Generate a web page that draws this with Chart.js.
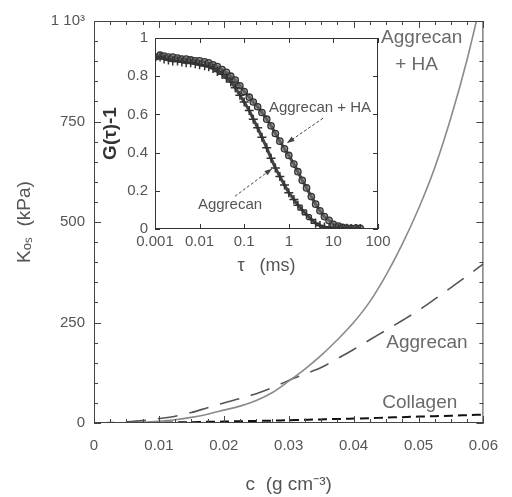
<!DOCTYPE html>
<html>
<head>
<meta charset="utf-8">
<script src="https://cdn.jsdelivr.net/npm/chart.js@4.4.1/dist/chart.umd.min.js"></script>
<style>
  body { margin: 0; background: #fff; }
  #wrap { position: relative; width: 512px; height: 497px; }
  #mainChart { position: absolute; left: 0; top: 0; }
  #insetChart { position: absolute; left: 95px; top: 22px; }
</style>
</head>
<body>
<div id="wrap">
  <canvas id="mainChart" width="512" height="497"></canvas>
  <canvas id="insetChart" width="300" height="262"></canvas>
</div>
<script>
  // Pressão osmótica vs concentração (gráfico principal)
  const concentration = [0, 0.0025, 0.005, 0.0075, 0.01, 0.0125, 0.015, 0.0175, 0.02, 0.0225, 0.025, 0.0275,
    0.03, 0.0325, 0.035, 0.0375, 0.04, 0.0425, 0.045, 0.0475, 0.05, 0.0525, 0.055, 0.0575, 0.06];
  const aggrecanHA = [0, 0, 0.5, 1.5, 4, 8, 14, 22, 32, 42, 56, 76,
    104, 134, 168, 207, 250, 302, 368, 445, 533, 635, 760, 905, 1075];
  const aggrecan = [0, 1, 3, 6, 11, 17, 26, 38, 50, 61, 73, 88,
    106, 122, 138, 160, 183, 207, 231, 255, 280, 308, 337, 366, 396];
  const collagen = [0, 0, 0, 0.5, 1, 1.5, 2, 3, 3.5, 4.5, 5, 6,
    7, 8, 9, 10, 11, 12, 13.5, 14.5, 16, 17, 18, 19.5, 21];

  const cTicks = [0, 0.01, 0.02, 0.03, 0.04, 0.05, 0.06];
  const cTickLabels = ['0', '0.01', '0.02', '0.03', '0.04', '0.05', '0.06'];
  const kTicks = [0, 250, 500, 750, 1000];
  const kTickLabels = ['0', '250', '500', '750', '1 10³'];

  // Função de correlação (inset)
  const tau = [0.001, 0.0013, 0.0016, 0.002, 0.0025, 0.0032, 0.004, 0.005, 0.0063, 0.008,
    0.01, 0.013, 0.016, 0.02, 0.025, 0.032, 0.04, 0.05, 0.063, 0.08,
    0.1, 0.13, 0.16, 0.2, 0.25, 0.32, 0.4, 0.5, 0.63, 0.8,
    1, 1.3, 1.6, 2, 2.5, 3.2, 4, 5, 6.3, 8,
    10, 13, 16, 20, 25, 32, 40];
  const gAggrecanHA = [0.90, 0.91, 0.905, 0.90, 0.90, 0.895, 0.89, 0.89, 0.885, 0.88,
    0.88, 0.875, 0.87, 0.86, 0.85, 0.835, 0.82, 0.80, 0.78, 0.75,
    0.72, 0.69, 0.665, 0.64, 0.61, 0.575, 0.54, 0.50, 0.46, 0.42,
    0.385, 0.34, 0.30, 0.255, 0.215, 0.17, 0.13, 0.095, 0.065, 0.045,
    0.025, 0.015, 0.008, 0.005, 0.004, 0.005, 0.003];
  const gAggrecan = [0.89, 0.90, 0.89, 0.885, 0.88, 0.88, 0.875, 0.87, 0.87, 0.865,
    0.86, 0.855, 0.85, 0.84, 0.825, 0.81, 0.79, 0.77, 0.74, 0.70,
    0.665, 0.62, 0.575, 0.53, 0.48, 0.425, 0.37, 0.32, 0.275, 0.23,
    0.19, 0.155, 0.125, 0.10, 0.075, 0.05, 0.03, 0.018, 0.01, 0.006,
    0.004, 0.005, 0.002, 0.004, 0.003, 0.002, 0.003];

  const tauTicks = [0.001, 0.01, 0.1, 1, 10, 100];
  const tauTickLabels = ['0.001', '0.01', '0.1', '1', '10', '100'];
  const gTicks = [0, 0.2, 0.4, 0.6, 0.8, 1];
  const gTickLabels = ['0', '0.2', '0.4', '0.6', '0.8', '1'];

  Chart.defaults.font.family = "'Liberation Sans', Arial, sans-serif";
  Chart.defaults.color = '#555';
  Chart.defaults.animation = false;

  const toPoints = (xs, ys) => xs.map((v, i) => ({ x: v, y: ys[i] }));

  // Moldura com marcas para dentro nos quatro lados
  const frameTicks = {
    id: 'frameTicks',
    afterDatasetsDraw(chart, args, opts) {
      const { ctx, chartArea: a, scales: { x, y } } = chart;
      ctx.save();
      ctx.strokeStyle = opts.color;
      ctx.lineWidth = 1;
      ctx.strokeRect(a.left + 0.5, a.top + 0.5, a.right - a.left - 1, a.bottom - a.top - 1);
      ctx.beginPath();
      const xMark = (v, len) => {
        const p = Math.round(x.getPixelForValue(v)) + 0.5;
        ctx.moveTo(p, a.bottom); ctx.lineTo(p, a.bottom - len);
        ctx.moveTo(p, a.top); ctx.lineTo(p, a.top + len);
      };
      const yMark = (v, len) => {
        const p = Math.round(y.getPixelForValue(v)) + 0.5;
        ctx.moveTo(a.left, p); ctx.lineTo(a.left + len, p);
        ctx.moveTo(a.right, p); ctx.lineTo(a.right - len, p);
      };
      x.ticks.forEach(t => xMark(t.value, opts.major));
      y.ticks.forEach(t => yMark(t.value, opts.major));
      if (opts.xMinor) {
        for (let v = x.min; v < x.max; v += opts.xMinor) xMark(v, opts.minor);
      }
      if (opts.yMinor) {
        for (let v = y.min; v < y.max; v += opts.yMinor) yMark(v, opts.minor);
      }
      ctx.stroke();
      ctx.restore();
    }
  };

  // Rótulos e setas, posicionados em coordenadas de dados
  const notes = {
    id: 'notes',
    afterDatasetsDraw(chart, args, opts) {
      const { ctx, scales: { x, y } } = chart;
      ctx.save();
      (opts.arrows || []).forEach(ar => {
        const x0 = x.getPixelForValue(ar.from[0]), y0 = y.getPixelForValue(ar.from[1]);
        const x1 = x.getPixelForValue(ar.to[0]), y1 = y.getPixelForValue(ar.to[1]);
        ctx.strokeStyle = opts.arrowColor;
        ctx.fillStyle = opts.arrowColor;
        ctx.lineWidth = 1;
        ctx.setLineDash([3, 2]);
        ctx.beginPath();
        ctx.moveTo(x0, y0);
        ctx.lineTo(x1, y1);
        ctx.stroke();
        ctx.setLineDash([]);
        const ang = Math.atan2(y1 - y0, x1 - x0);
        ctx.beginPath();
        ctx.moveTo(x1, y1);
        ctx.lineTo(x1 - 8 * Math.cos(ang - 0.35), y1 - 8 * Math.sin(ang - 0.35));
        ctx.lineTo(x1 - 8 * Math.cos(ang + 0.35), y1 - 8 * Math.sin(ang + 0.35));
        ctx.closePath();
        ctx.fill();
      });
      (opts.labels || []).forEach(l => {
        ctx.font = opts.font;
        ctx.fillStyle = opts.color;
        ctx.textAlign = 'center';
        ctx.textBaseline = 'middle';
        ctx.fillText(l.text, x.getPixelForValue(l.x), y.getPixelForValue(l.y));
      });
      ctx.restore();
    }
  };

  new Chart(document.getElementById('mainChart'), {
    type: 'line',
    data: {
      datasets: [{
        label: 'Aggrecan + HA',
        data: toPoints(concentration, aggrecanHA),
        borderColor: '#8a8a8a',
        borderWidth: 1.6,
        pointRadius: 0,
        cubicInterpolationMode: 'monotone'
      }, {
        label: 'Aggrecan',
        data: toPoints(concentration, aggrecan),
        borderColor: '#555',
        borderWidth: 1.6,
        borderDash: [20, 12],
        pointRadius: 0,
        cubicInterpolationMode: 'monotone'
      }, {
        label: 'Collagen',
        data: toPoints(concentration, collagen),
        borderColor: '#111',
        borderWidth: 2,
        borderDash: [9, 5],
        pointRadius: 0,
        cubicInterpolationMode: 'monotone'
      }]
    },
    options: {
      responsive: false,
      layout: { padding: { top: 21, right: 15, bottom: 0, left: 0 } },
      scales: {
        x: {
          type: 'linear',
          min: 0,
          max: 0.06,
          afterBuildTicks: s => { s.ticks = cTicks.map(v => ({ value: v })); },
          afterFit: s => { s.height = 74; },
          ticks: { callback: (v, i) => cTickLabels[i], font: { size: 15 }, padding: 14, maxRotation: 0 },
          grid: { display: false, drawTicks: false },
          border: { display: false },
          title: { display: true, text: 'c  (g cm⁻³)', font: { size: 19 }, padding: { top: 0, bottom: 1 } }
        },
        y: {
          min: 0,
          max: 1000,
          afterBuildTicks: s => { s.ticks = kTicks.map(v => ({ value: v })); },
          afterFit: s => { s.width = 94; },
          ticks: { callback: (v, i) => kTickLabels[i], font: { size: 15 }, padding: 9 },
          grid: { display: false, drawTicks: false },
          border: { display: false },
          title: { display: true, text: 'Kₒₛ  (kPa)', font: { size: 19 }, padding: { top: 13, bottom: 0 } }
        }
      },
      plugins: {
        legend: { display: false },
        tooltip: { enabled: false },
        frameTicks: { color: '#444', major: 7, minor: 4, xMinor: 0.0025, yMinor: 50 },
        notes: {
          font: "19px 'Liberation Sans', Arial, sans-serif",
          color: '#6a6a6a',
          labels: [
            { text: 'Aggrecan', x: 0.0505, y: 958 },
            { text: '+ HA', x: 0.0497, y: 890 },
            { text: 'Aggrecan', x: 0.0513, y: 199 },
            { text: 'Collagen', x: 0.0502, y: 50 }
          ]
        }
      }
    },
    plugins: [frameTicks, notes]
  });

  new Chart(document.getElementById('insetChart'), {
    type: 'scatter',
    data: {
      datasets: [{
        label: 'Aggrecan',
        data: toPoints(tau, gAggrecan),
        showLine: true,
        borderColor: '#444',
        borderWidth: 3,
        pointStyle: 'cross',
        pointRadius: 4.5,
        pointBorderWidth: 1.5,
        pointBorderColor: '#333'
      }, {
        label: 'Aggrecan + HA',
        data: toPoints(tau, gAggrecanHA),
        showLine: true,
        borderColor: '#4a4a4a',
        borderWidth: 3,
        pointStyle: 'circle',
        pointRadius: 3.2,
        pointBorderWidth: 1.3,
        pointBorderColor: '#333',
        pointBackgroundColor: 'rgba(110,110,110,0.6)'
      }]
    },
    options: {
      responsive: false,
      layout: { padding: { top: 14, right: 17, bottom: 0, left: 0 } },
      scales: {
        x: {
          type: 'logarithmic',
          min: 0.001,
          max: 100,
          afterBuildTicks: s => { s.ticks = tauTicks.map(v => ({ value: v })); },
          afterFit: s => { s.height = 55; },
          ticks: { callback: (v, i) => tauTickLabels[i], font: { size: 15 }, padding: 4, maxRotation: 0, autoSkip: false },
          grid: { display: false, drawTicks: false },
          border: { display: false },
          title: { display: true, text: 'τ   (ms)', font: { size: 18 }, padding: { top: 0, bottom: 7 } }
        },
        y: {
          min: 0,
          max: 1,
          afterBuildTicks: s => { s.ticks = gTicks.map(v => ({ value: v })); },
          afterFit: s => { s.width = 60; },
          ticks: { callback: (v, i) => gTickLabels[i], font: { size: 15 }, padding: 7 },
          grid: { display: false, drawTicks: false },
          border: { display: false },
          title: { display: true, text: 'G(τ)-1', color: '#333', font: { size: 19, weight: 'bold' }, padding: { top: 4, bottom: 0 } }
        }
      },
      plugins: {
        legend: { display: false },
        tooltip: { enabled: false },
        frameTicks: { color: '#333', major: 5, minor: 0 },
        notes: {
          font: "15px 'Liberation Sans', Arial, sans-serif",
          color: '#555',
          arrowColor: '#444',
          labels: [
            { text: 'Aggrecan + HA', x: 5.0, y: 0.632 },
            { text: 'Aggrecan', x: 0.048, y: 0.124 }
          ],
          arrows: [
            { from: [5.85, 0.58], to: [0.91, 0.45] },
            { from: [0.062, 0.171], to: [0.42, 0.316] }
          ]
        }
      }
    },
    plugins: [frameTicks, notes]
  });
</script>
</body>
</html>
